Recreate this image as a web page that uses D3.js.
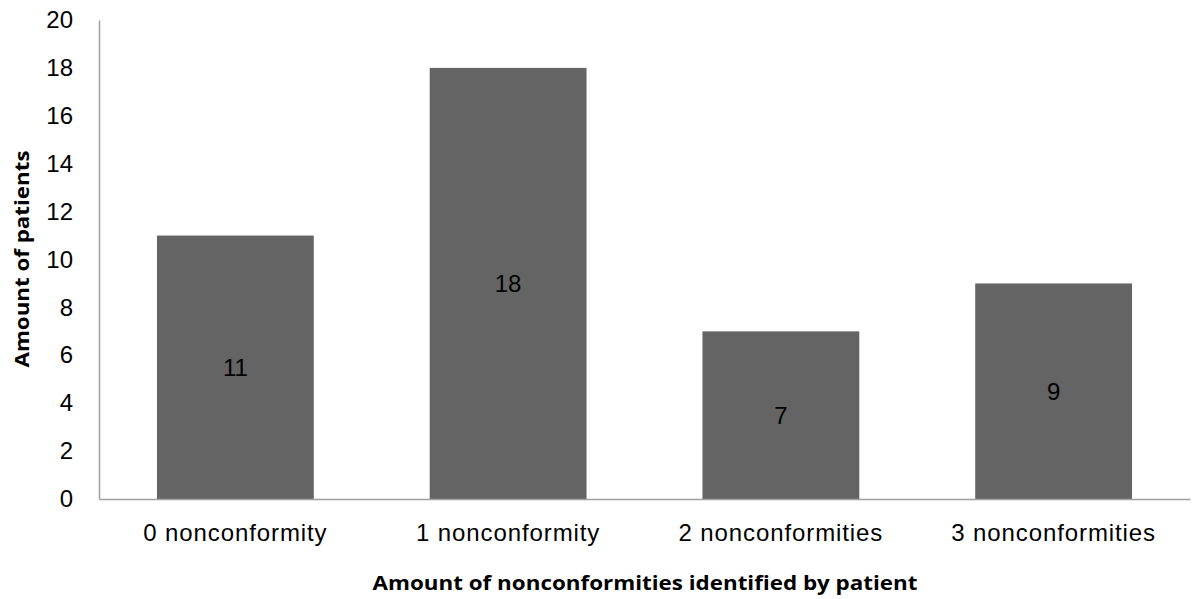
<!DOCTYPE html>
<html>
<head>
<meta charset="utf-8">
<script src="https://cdn.jsdelivr.net/npm/d3@7"></script>
<style>
  body { margin: 0; background: #fff; }
  svg { display: block; }
  .tick text { font-family: "Liberation Sans", Arial, sans-serif; fill: #000; }
  .title { font-family: "Open Sans", Lato, sans-serif; font-weight: bold; fill: #000; }
</style>
</head>
<body>
<div id="chart"></div>
<script>
// chart data
var categories = ["0 nonconformity", "1 nonconformity", "2 nonconformities", "3 nonconformities"];
var patients = [11, 18, 7, 9];
var yTicks = [0, 2, 4, 6, 8, 10, 12, 14, 16, 18, 20];

var W = 1192, H = 599;
var margin = {top: 20, right: 2, bottom: 100, left: 99};
var width = W - margin.left - margin.right;
var height = H - margin.top - margin.bottom;

var svg = d3.select("#chart").append("svg")
    .attr("width", W)
    .attr("height", H)
    .append("g")
    .attr("transform", "translate(" + margin.left + "," + margin.top + ")");

var data = categories.map(function(c, i) { return {name: c, value: patients[i]}; });

var x = d3.scaleBand()
    .domain(categories)
    .range([0, width])
    .paddingInner(0.425)
    .paddingOuter(0.2125);

var y = d3.scaleLinear().domain([0, 20]).range([height, 0]);

// bars
svg.selectAll(".bar")
    .data(data)
    .enter().append("rect")
    .attr("class", "bar")
    .attr("x", function(d) { return x(d.name); })
    .attr("width", x.bandwidth())
    .attr("y", function(d) { return y(d.value); })
    .attr("height", function(d) { return height - y(d.value); })
    .attr("fill", "#646464");

// value labels in the middle of each bar
svg.selectAll(".label")
    .data(data)
    .enter().append("text")
    .attr("class", "label")
    .attr("x", function(d) { return x(d.name) + x.bandwidth() / 2; })
    .attr("y", function(d) { return y(d.value / 2); })
    .attr("dy", "0.36em")
    .attr("text-anchor", "middle")
    .style("font-family", "'Liberation Sans', Arial, sans-serif")
    .style("font-size", "24px")
    .style("fill", "#000")
    .text(function(d) { return d.value; });

// y axis
var yAxis = svg.append("g")
    .attr("class", "axis")
    .call(d3.axisLeft(y).tickValues(yTicks).tickSize(0).tickPadding(26));
yAxis.select(".domain").attr("stroke", "#a0a0a0").attr("stroke-width", 1.5);
yAxis.selectAll("text").style("font-size", "24px");

// x axis
var xAxis = svg.append("g")
    .attr("class", "axis")
    .attr("transform", "translate(0," + height + ")")
    .call(d3.axisBottom(x).tickSize(0).tickPadding(25));
xAxis.select(".domain").attr("stroke", "#a0a0a0").attr("stroke-width", 1.5);
xAxis.selectAll("text")
    .style("font-size", "24px")
    .style("letter-spacing", "0.9px");

// axis titles
svg.append("text")
    .attr("class", "title")
    .attr("x", 645 - margin.left)
    .attr("y", height + 91)
    .attr("text-anchor", "middle")
    .attr("textLength", 545)
    .attr("lengthAdjust", "spacingAndGlyphs")
    .style("font-size", "20px")
    .text("Amount of nonconformities identified by patient");

svg.append("text")
    .attr("class", "title")
    .attr("transform", "translate(" + (29 - margin.left) + "," + (259 - margin.top) + ") rotate(-90)")
    .attr("text-anchor", "middle")
    .attr("textLength", 217)
    .attr("lengthAdjust", "spacingAndGlyphs")
    .style("font-size", "20px")
    .text("Amount of patients");
</script>
</body>
</html>
